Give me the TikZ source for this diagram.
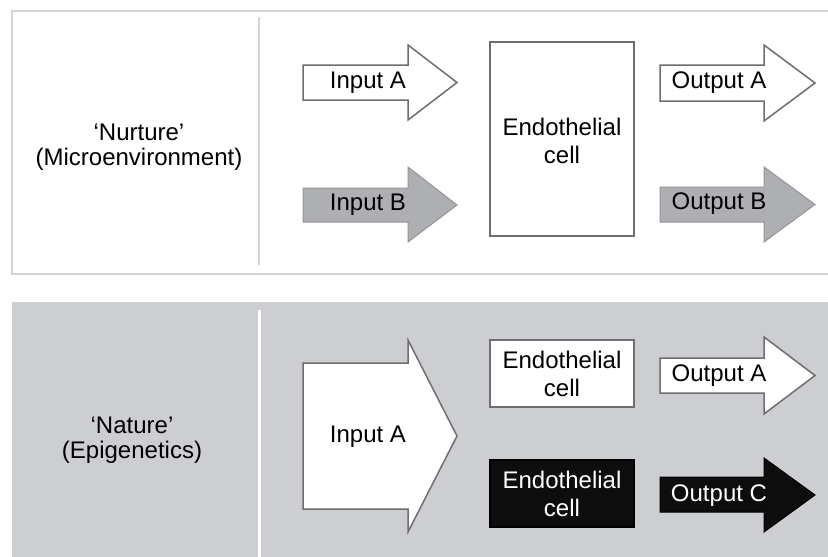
\documentclass[tikz,border=0pt]{standalone}
\usepackage{fontspec}
\setmainfont{Liberation Sans}
\definecolor{panelline}{HTML}{D3D4D7}
\definecolor{panelfill}{HTML}{CDCED1}
\definecolor{midgray}{HTML}{AEAFB2}
\definecolor{edge}{HTML}{6E6E70}
\tikzset{
  frame/.style={draw=panelline, line width=2pt},
  whitearrow/.style={draw=edge, fill=white, line width=1.5pt, line join=miter},
  grayarrow/.style={draw=midgray!85!black, fill=midgray, line width=1pt, line join=miter},
  blackarrow/.style={draw=black, fill=black!95, line width=1pt, line join=miter},
  cellbox/.style={draw=edge, fill=white, line width=1.5pt},
  darkcell/.style={draw=black, fill=black!95, line width=1.5pt},
  lbl/.style={font=\fontsize{24}{25}\selectfont, align=center, inner sep=0pt},
  celllbl/.style={lbl, font=\fontsize{24}{27.5}\selectfont},
}
\begin{document}
\begin{tikzpicture}[x=1pt, y=-1pt]
\useasboundingbox (0,0) rectangle (828,557);
\fill[white] (0,0) rectangle (828,557);

% upper panel: microenvironment
\draw[frame] (12,11) rectangle (845,274);
\draw[draw=panelline, line width=2pt] (259,17) -- (259,265);
\node[lbl] (nurture) at (139,147) {‘Nurture’\\(Microenvironment)};

\draw[whitearrow] (303,65) -- (408,65) -- (408,45) -- (457,82.5) -- (408,120) -- (408,100) -- (303,100) -- cycle;
\node[lbl] (inA) at (368,83) {Input A};
\draw[grayarrow] (303,188) -- (408,188) -- (408,167) -- (457,205) -- (408,242) -- (408,222) -- (303,222) -- cycle;
\node[lbl] (inB) at (368,205) {Input B};

\draw[cellbox] (490,42) rectangle (634,236);
\node[celllbl] (cell) at (562,141) {Endothelial\\cell};

\draw[whitearrow] (660,65) -- (764,65) -- (764,45) -- (815,83) -- (764,121) -- (764,101) -- (660,101) -- cycle;
\node[lbl] (outA) at (719,83) {Output A};
\draw[grayarrow] (660,187) -- (764,187) -- (764,167) -- (815,204.5) -- (764,242) -- (764,222) -- (660,222) -- cycle;
\node[lbl] (outB) at (719,204) {Output B};

% lower panel: epigenetics
\fill[panelfill] (12,302) rectangle (845,570);
\draw[white, line width=3pt] (259,310) -- (259,560);
\node[lbl] (nature) at (132,440) {‘Nature’\\(Epigenetics)};

\draw[whitearrow] (303,363) -- (408,363) -- (408,340) -- (457,436) -- (408,532) -- (408,509) -- (303,509) -- cycle;
\node[lbl] (inA2) at (368,437) {Input A};

\draw[cellbox] (490,340) rectangle (634,407);
\node[celllbl] (cellA) at (562,374) {Endothelial\\cell};
\draw[darkcell] (490,460) rectangle (634,527);
\node[celllbl, text=white] (cellC) at (562,494) {Endothelial\\cell};

\draw[whitearrow] (660,358) -- (764,358) -- (764,337) -- (815,375.5) -- (764,414) -- (764,393) -- (660,393) -- cycle;
\node[lbl] (outA2) at (719,376) {Output A};
\draw[blackarrow] (660,477) -- (764,477) -- (764,458) -- (815,495) -- (764,532) -- (764,512) -- (660,512) -- cycle;
\node[lbl, text=white] (outC) at (719,496) {Output C};
\end{tikzpicture}
\end{document}
